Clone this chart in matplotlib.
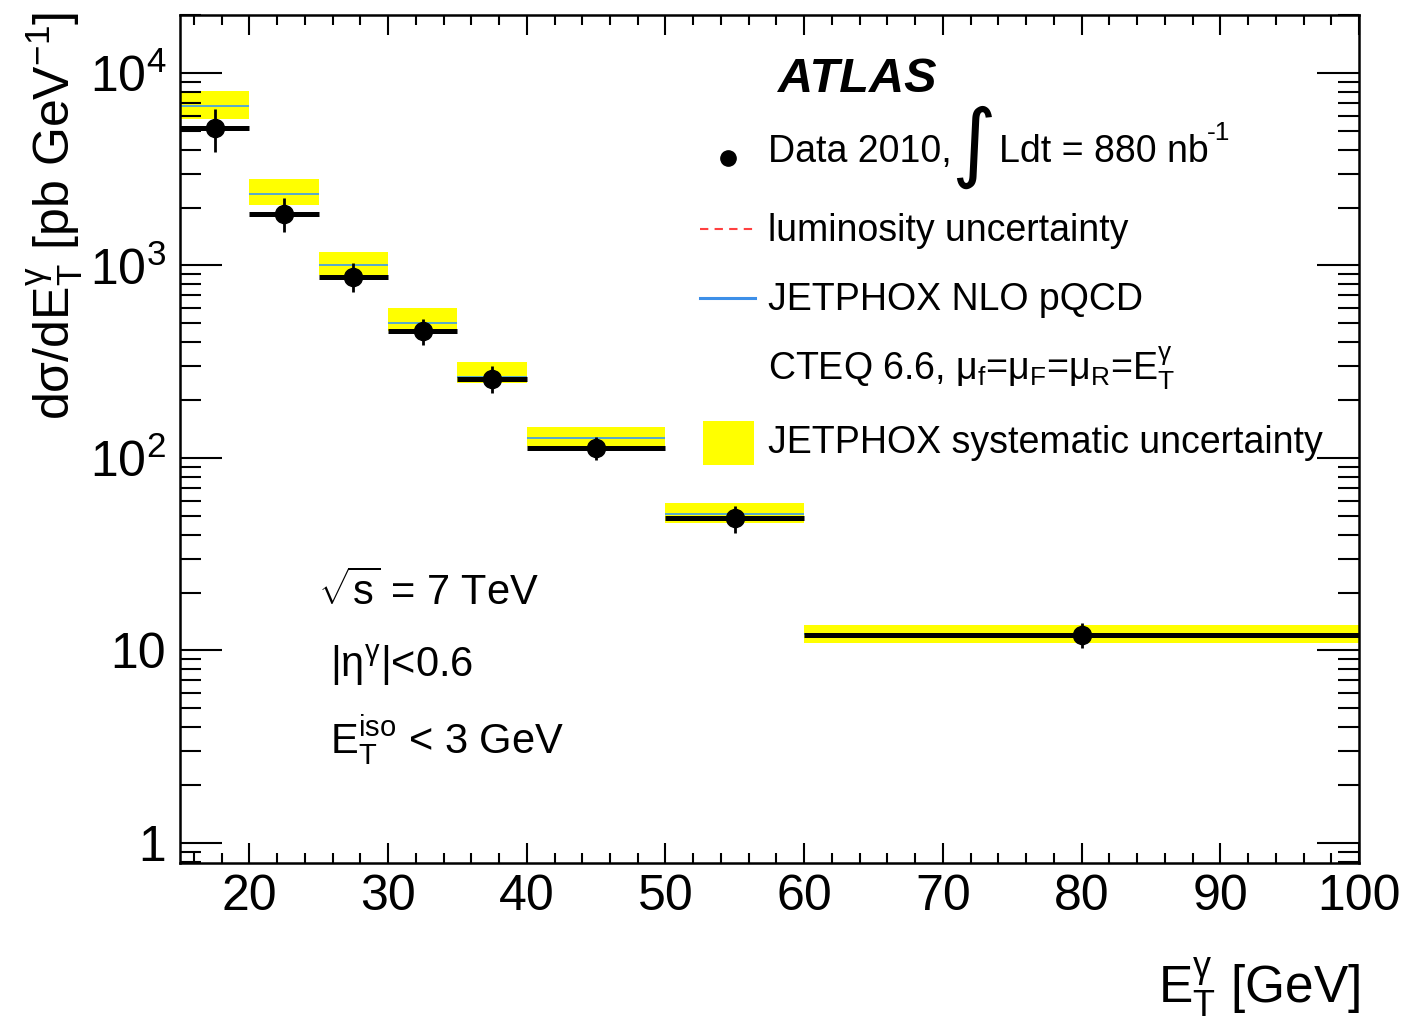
import numpy as np
import matplotlib
matplotlib.use('Agg')
import matplotlib.pyplot as plt
from matplotlib.ticker import MultipleLocator, LogLocator, FixedLocator, FixedFormatter, NullFormatter
from matplotlib.lines import Line2D
from matplotlib.patches import Rectangle

plt.rcParams['font.family'] = ['Liberation Sans', 'DejaVu Sans']
plt.rcParams['mathtext.fontset'] = 'custom'
plt.rcParams['mathtext.rm'] = 'Liberation Sans'
plt.rcParams['mathtext.it'] = 'Liberation Sans:italic'
plt.rcParams['mathtext.bf'] = 'Liberation Sans:bold'
plt.rcParams['mathtext.default'] = 'regular'

# E_T bins [GeV]
bin_lo = [15, 20, 25, 30, 35, 40, 50, 60]
bin_hi = [20, 25, 30, 35, 40, 50, 60, 100]
bin_mid = [17.5, 22.5, 27.5, 32.5, 37.5, 45, 55, 80]

# measured cross section [pb/GeV] and total error
data_y = [5200, 1860, 875, 458, 258, 113, 48.6, 12.1]
data_err = [1300, 370, 150, 72, 41, 15.6, 7.7, 1.85]

# JETPHOX NLO prediction with systematic band
nlo = [6710, 2360, 1010, 503, 264, 127.5, 51.3, 12.2]
nlo_up = [8065, 2814, 1180, 604, 316, 145.4, 58.2, 13.6]
nlo_dn = [5790, 2062, 892, 458, 244, 115.8, 45.8, 10.9]

ytick_vals = [1, 10, 100, 1000, 10000]
ytick_labels = ['1', '10', r'$10^{2}$', r'$10^{3}$', r'$10^{4}$']

W, H = 1407, 1022
fig = plt.figure(figsize=(W / 100, H / 100), dpi=100)
ax = fig.add_axes([180 / W, 1 - 863 / H, (1359 - 180) / W, (863 - 15) / H])

def px(x, y):
    return x / W, 1 - y / H

lo = np.array(bin_lo, float)
hi = np.array(bin_hi, float)
ax.bar(lo, np.array(nlo_up) - np.array(nlo_dn), width=hi - lo, bottom=nlo_dn,
       align='edge', color='#ffff00', edgecolor='none', zorder=1)
ax.hlines(nlo, lo, hi, color='#4aa3dc', lw=1.3, zorder=2)
ax.hlines(data_y, lo, hi, color='black', lw=3.6, zorder=3)
ax.errorbar(bin_mid, data_y, yerr=data_err, fmt='o', ms=13, color='black',
            elinewidth=2.0, capsize=0, zorder=4)

ax.set_yscale('log')
ax.set_xlim(15, 100)
ax.set_ylim(0.787, 2.0e4)

ax.xaxis.set_major_locator(MultipleLocator(10))
ax.xaxis.set_minor_locator(MultipleLocator(2))
ax.yaxis.set_major_locator(FixedLocator(ytick_vals))
ax.yaxis.set_major_formatter(FixedFormatter(ytick_labels))
ax.yaxis.set_minor_locator(LogLocator(base=10, subs=np.arange(2, 10)))
ax.yaxis.set_minor_formatter(NullFormatter())

ax.tick_params(which='both', direction='in', top=True, right=True, width=1.5, color='black')
ax.tick_params(axis='x', which='major', length=14.5, labelsize=36, pad=8)
ax.tick_params(axis='x', which='minor', length=7)
ax.tick_params(axis='y', which='major', length=30, labelsize=36, pad=10)
ax.tick_params(axis='y', which='minor', length=15)
for s in ax.spines.values():
    s.set_linewidth(1.8)

# axis titles
fig.text(*px(1360, 1003), r'E$_{T}^{\gamma}$ [GeV]', fontsize=37, ha='right', va='baseline')
fig.text(*px(55, 12), r'd$\sigma$/dE$_{T}^{\gamma}$ [pb GeV$^{-1}$]', fontsize=36,
         rotation=90, ha='center', va='top')

# legend block
fig.text(*px(857, 80), 'ATLAS', fontsize=35, fontweight='bold', fontstyle='italic',
         ha='center', va='center')
fig.add_artist(Line2D([728 / W], [1 - 158 / H], marker='o', ms=11, color='black',
                      transform=fig.transFigure))
fig.text(*px(768, 162), 'Data 2010,', fontsize=27, va='baseline')
fig.text(*px(974, 147), '\u222b', fontsize=62, family=['DejaVu Sans'], ha='center', va='center')
fig.text(*px(999, 162), 'Ldt = 880 nb', fontsize=27, va='baseline')
fig.text(*px(1207, 140), '-1', fontsize=19, va='baseline')

fig.add_artist(Line2D([700 / W, 755 / W], [1 - 229 / H] * 2, color='#ff4040', lw=1.5,
                      ls=(0, (4, 3)), transform=fig.transFigure))
fig.text(*px(768, 241), 'luminosity uncertainty', fontsize=27, va='baseline')

fig.add_artist(Line2D([700 / W, 755 / W], [1 - 298 / H] * 2, color='#3d8fe8', lw=2.2,
                      transform=fig.transFigure))
fig.text(*px(768, 310), 'JETPHOX NLO pQCD', fontsize=27, va='baseline')

fig.text(*px(768, 380), r'CTEQ 6.6, $\mu_{f}$=$\mu_{F}$=$\mu_{R}$=E$_{T}^{\gamma}$',
         fontsize=27, va='baseline')

fig.add_artist(Rectangle(px(703, 465), 51 / W, 44 / H, facecolor='#ffff00',
                         edgecolor='none', transform=fig.transFigure))
fig.text(*px(768, 453), 'JETPHOX systematic uncertainty', fontsize=27, va='baseline')

# selection
fig.text(*px(318, 605), r'$\sqrt{s}$ = 7 TeV', fontsize=30, va='baseline')
fig.text(*px(330, 677), r'|$\eta^{\gamma}$|<0.6', fontsize=30, va='baseline')
fig.text(*px(330, 753), r'E$_{T}^{iso}$ < 3 GeV', fontsize=30, va='baseline')

fig.savefig('out.png', dpi=100)
